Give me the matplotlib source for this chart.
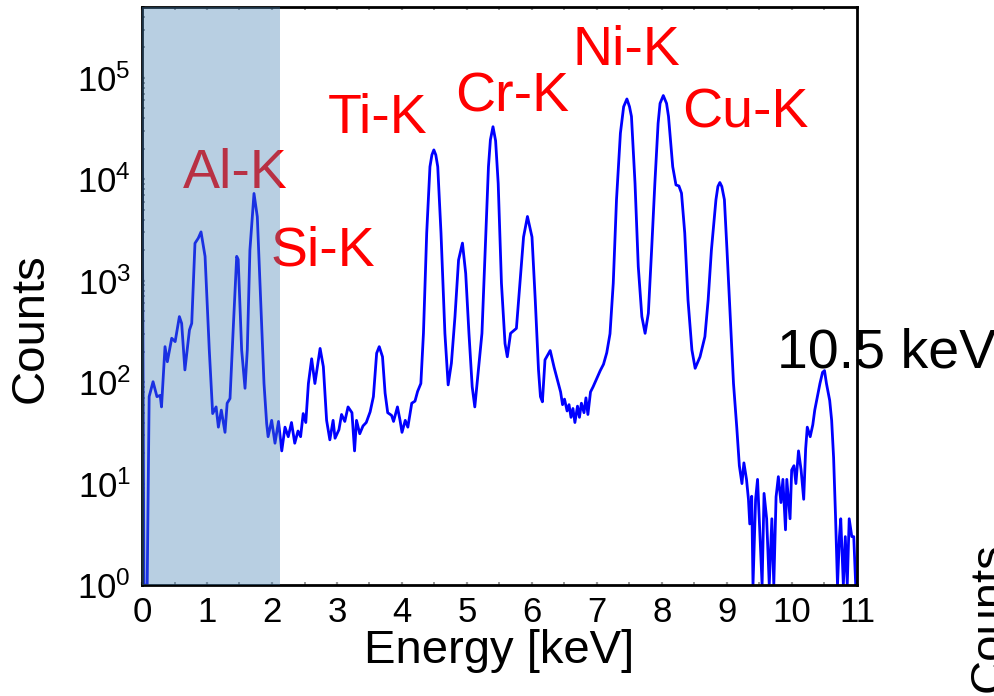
import matplotlib as mpl
mpl.use('Agg')
import matplotlib.pyplot as plt
import numpy as np

# spectrum (energy in keV, counts)
energy = [0.00, 0.03, 0.08, 0.11, 0.17, 0.23, 0.28, 0.30, 0.354, 0.39, 0.457, 0.51,
          0.575, 0.61, 0.66, 0.73, 0.765, 0.815, 0.866, 0.908, 0.97, 1.035, 1.087,
          1.14, 1.175, 1.22, 1.277, 1.31, 1.354, 1.405, 1.457, 1.48, 1.533, 1.585,
          1.62, 1.66, 1.723, 1.774, 1.826, 1.877, 1.918, 1.94, 1.995, 2.046, 2.10,
          2.15, 2.20, 2.25, 2.30, 2.35, 2.40, 2.44, 2.48, 2.52, 2.56, 2.61, 2.66,
          2.74, 2.79, 2.84, 2.89, 2.94, 2.97, 3.03, 3.07, 3.12, 3.17, 3.23, 3.27,
          3.30, 3.35, 3.40, 3.45, 3.51, 3.56, 3.61, 3.65, 3.70, 3.74, 3.78, 3.84,
          3.87, 3.93, 3.97, 4.00, 4.05, 4.09, 4.15, 4.20, 4.24, 4.29, 4.33, 4.38,
          4.43, 4.46, 4.49, 4.52, 4.55, 4.60, 4.66, 4.71, 4.76, 4.815, 4.87, 4.93,
          4.98, 5.03, 5.08, 5.12, 5.17, 5.23, 5.28, 5.33, 5.36, 5.40, 5.44, 5.48,
          5.53, 5.585, 5.62, 5.67, 5.76, 5.815, 5.87, 5.93, 6.00, 6.05, 6.10, 6.13,
          6.16, 6.20, 6.28, 6.34, 6.40, 6.44, 6.47, 6.50, 6.54, 6.57, 6.60, 6.63,
          6.66, 6.70, 6.73, 6.76, 6.80, 6.83, 6.86, 6.90, 6.94, 7.00, 7.05, 7.10,
          7.15, 7.20, 7.25, 7.30, 7.36, 7.41, 7.46, 7.50, 7.53, 7.585, 7.635, 7.69,
          7.74, 7.79, 7.84, 7.89, 7.94, 7.97, 8.02, 8.07, 8.10, 8.165, 8.215, 8.26,
          8.30, 8.35, 8.40, 8.46, 8.51, 8.585, 8.66, 8.71, 8.76, 8.83, 8.86, 8.89,
          8.92, 8.96, 9.00, 9.05, 9.10, 9.15, 9.19, 9.23, 9.26, 9.30, 9.33, 9.35,
          9.38, 9.40, 9.44, 9.47, 9.50, 9.54, 9.57, 9.61, 9.65, 9.69, 9.72, 9.755,
          9.79, 9.83, 9.86, 9.90, 9.92, 9.97, 9.995, 10.03, 10.06, 10.10, 10.14,
          10.18, 10.21, 10.235, 10.28, 10.32, 10.35, 10.39, 10.43, 10.47, 10.50,
          10.53, 10.58, 10.61, 10.64, 10.67, 10.70, 10.73, 10.75, 10.79, 10.82,
          10.85, 10.88, 10.92, 10.95, 10.98]
counts = [40000, 1, 1, 72, 101, 72, 74, 57, 224, 159, 271, 251,
          443, 380, 132, 327, 380, 2340, 2630, 3030, 1740, 208, 49,
          57, 36, 53, 32, 62, 69, 353, 1740, 1620, 208, 87,
          208, 2000, 7250, 4270, 646, 97, 39, 29, 42, 25, 41,
          21, 36, 29, 40, 25, 33, 29, 49, 40, 97, 170, 97,
          215, 142, 42, 27, 42, 28, 34, 48, 41, 57, 50, 21,
          42, 31, 37, 40, 51, 72, 193, 224, 178, 78, 50, 47,
          41, 57, 42, 32, 42, 36, 62, 65, 81, 97, 303, 2950,
          13300, 17400, 19500, 17400, 13300, 2950, 303, 94, 154, 443, 1600, 2350,
          1180, 303, 90, 57, 123, 303, 2000, 13300, 24500, 33000, 24000, 9100,
          944, 240, 178, 303, 339, 944, 2700, 4300, 2700, 646, 132, 72,
          64, 166, 205, 140, 100, 80, 60, 68, 52, 60, 45, 55,
          40, 58, 45, 62, 50, 70, 48, 80, 90, 110, 130, 150,
          195, 300, 944, 6300, 28500, 52000, 62000, 52000, 41700, 9100, 1380, 443,
          303, 478, 2000, 9100, 35600, 56000, 67000, 56000, 41700, 13300, 8800, 8600,
          7300, 2950, 646, 208, 137, 178, 281, 646, 2000, 6300, 8500, 9300,
          8500, 6300, 2000, 443, 97, 36, 15, 10, 16, 11, 7, 4,
          7.5, 1, 7, 11, 4, 1, 8, 4.5, 1, 4.5, 1, 7.4,
          11.7, 6.5, 11, 3.5, 11, 4.5, 13.6, 15, 10, 21, 13.6,
          7, 22, 36, 29, 38, 53, 72, 97, 125, 130,
          97, 66, 42, 18, 4.7, 1, 3, 4.5, 1, 3,
          1, 4.5, 3, 3, 1]

# peak labels: text, energy of left edge, counts at baseline, colour
label_text = ['Al-K', 'Si-K', 'Ti-K', 'Cr-K', 'Ni-K', 'Cu-K', '10.5 keV']
label_x = [0.63, 1.97, 2.86, 4.82, 6.63, 8.31, 9.77]
label_y = [8230, 1400, 28700, 46200, 134000, 32100, 138]
label_color = ['red', 'red', 'red', 'red', 'red', 'red', 'black']

shade_lo, shade_hi = 0.0, 2.13

plt.rcParams['font.family'] = ['Liberation Sans', 'DejaVu Sans']
plt.rcParams['mathtext.fontset'] = 'custom'
plt.rcParams['mathtext.rm'] = 'Liberation Sans'
plt.rcParams['mathtext.it'] = 'Liberation Sans:italic'
plt.rcParams['mathtext.bf'] = 'Liberation Sans:bold'

fig = plt.figure(figsize=(9.94, 6.96), dpi=100)
ax = fig.add_axes([142/994, 1 - 585/696, 715/994, 578/696])

ax.plot(energy, counts, color='#0000ff', lw=2.0, zorder=2)

for t, x, y, c in zip(label_text, label_x, label_y, label_color):
    ax.text(x, y, t, color=c, fontsize=40, ha='left', va='baseline',
            clip_on=False, zorder=3)

# shaded window drawn over the line and the labels
ax.axvspan(shade_lo, shade_hi, color='steelblue', alpha=0.38, lw=0, zorder=4)

ax.set_yscale('log')
ax.set_xlim(0, 11)
ax.set_ylim(1, 5e5)
ax.set_xticks(range(0, 12))
ax.set_xticks(np.arange(0.5, 11, 1.0), minor=True)

ax.tick_params(axis='both', which='both', direction='in', labelsize=25)
ax.tick_params(axis='x', which='major', length=8, width=1.6, pad=8)
ax.tick_params(axis='x', which='minor', length=4, width=1.4)
ax.tick_params(axis='y', which='major', length=8, width=1.6, pad=8)
ax.tick_params(axis='y', which='minor', length=4.5, width=1.4)
ax.tick_params(top=True, which='both', length=2.5, color='#999999')

for s in ax.spines.values():
    s.set_linewidth(2)

ax.set_xlabel('Energy [keV]', fontsize=34, labelpad=0)
ax.set_ylabel('Counts', fontsize=34)
ax.yaxis.set_label_coords(-0.125, 0.445)

# ylabel of the neighbouring panel, cut by the right edge
fig.text(968/994, 1 - 692/696, 'Counts', fontsize=34, rotation=90,
         ha='left', va='bottom')

fig.savefig('out.png', dpi=100)
